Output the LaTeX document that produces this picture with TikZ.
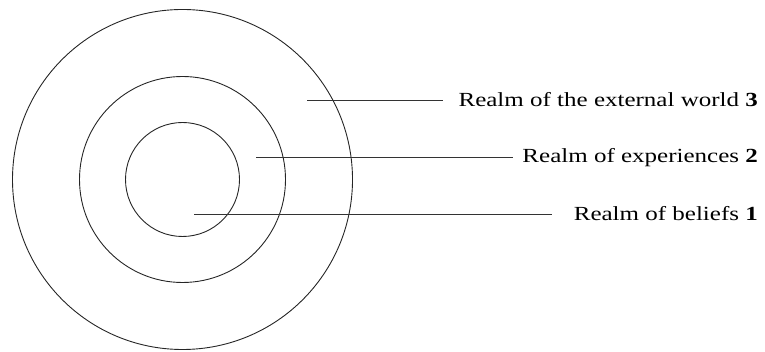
\documentclass[tikz,border=0pt]{standalone}
\usepackage{fontspec}
\setmainfont{Liberation Serif}
\newfontfamily\realmfont[FakeStretch=1.25]{Liberation Serif}
\usetikzlibrary{positioning}
\tikzset{
  ring/.style={circle, draw=black!85, line width=0.9pt, inner sep=0pt,
               minimum size=#1},
  realmlabel/.style={anchor=east, inner sep=0pt, text height=12pt,
                     text depth=0pt, font=\realmfont\fontsize{20}{22}\selectfont},
  leader/.style={draw=black!80, line width=0.9pt},
}

\begin{document}
\begin{tikzpicture}[x=1pt, y=-1pt]
  \useasboundingbox (0,0) rectangle (765,352);
  \coordinate (ctr) at (182.5,179.5);

  % the three realms
  \node[ring=114pt] (beliefs)     at (ctr) {};
  \node[ring=206pt] (experiences) at (ctr) {};
  \node[ring=340pt] (world)       at (ctr) {};

  \node[realmlabel] (lab3) at (758,100.5) {Realm of the external world \textbf{3}};
  \node[realmlabel] (lab2) at (758,157)   {Realm of experiences \textbf{2}};
  \node[realmlabel] (lab1) at (758,214.5) {Realm of beliefs \textbf{1}};

  \coordinate (s3) at (307,100.5);
  \coordinate (s2) at (256,157);
  \coordinate (s1) at (194,214.5);
  \draw[leader, shorten >=15pt] (s3) -- (lab3.west);
  \draw[leader, shorten >=9pt]  (s2) -- (lab2.west);
  \draw[leader, shorten >=22pt] (s1) -- (lab1.west);
\end{tikzpicture}
\end{document}
